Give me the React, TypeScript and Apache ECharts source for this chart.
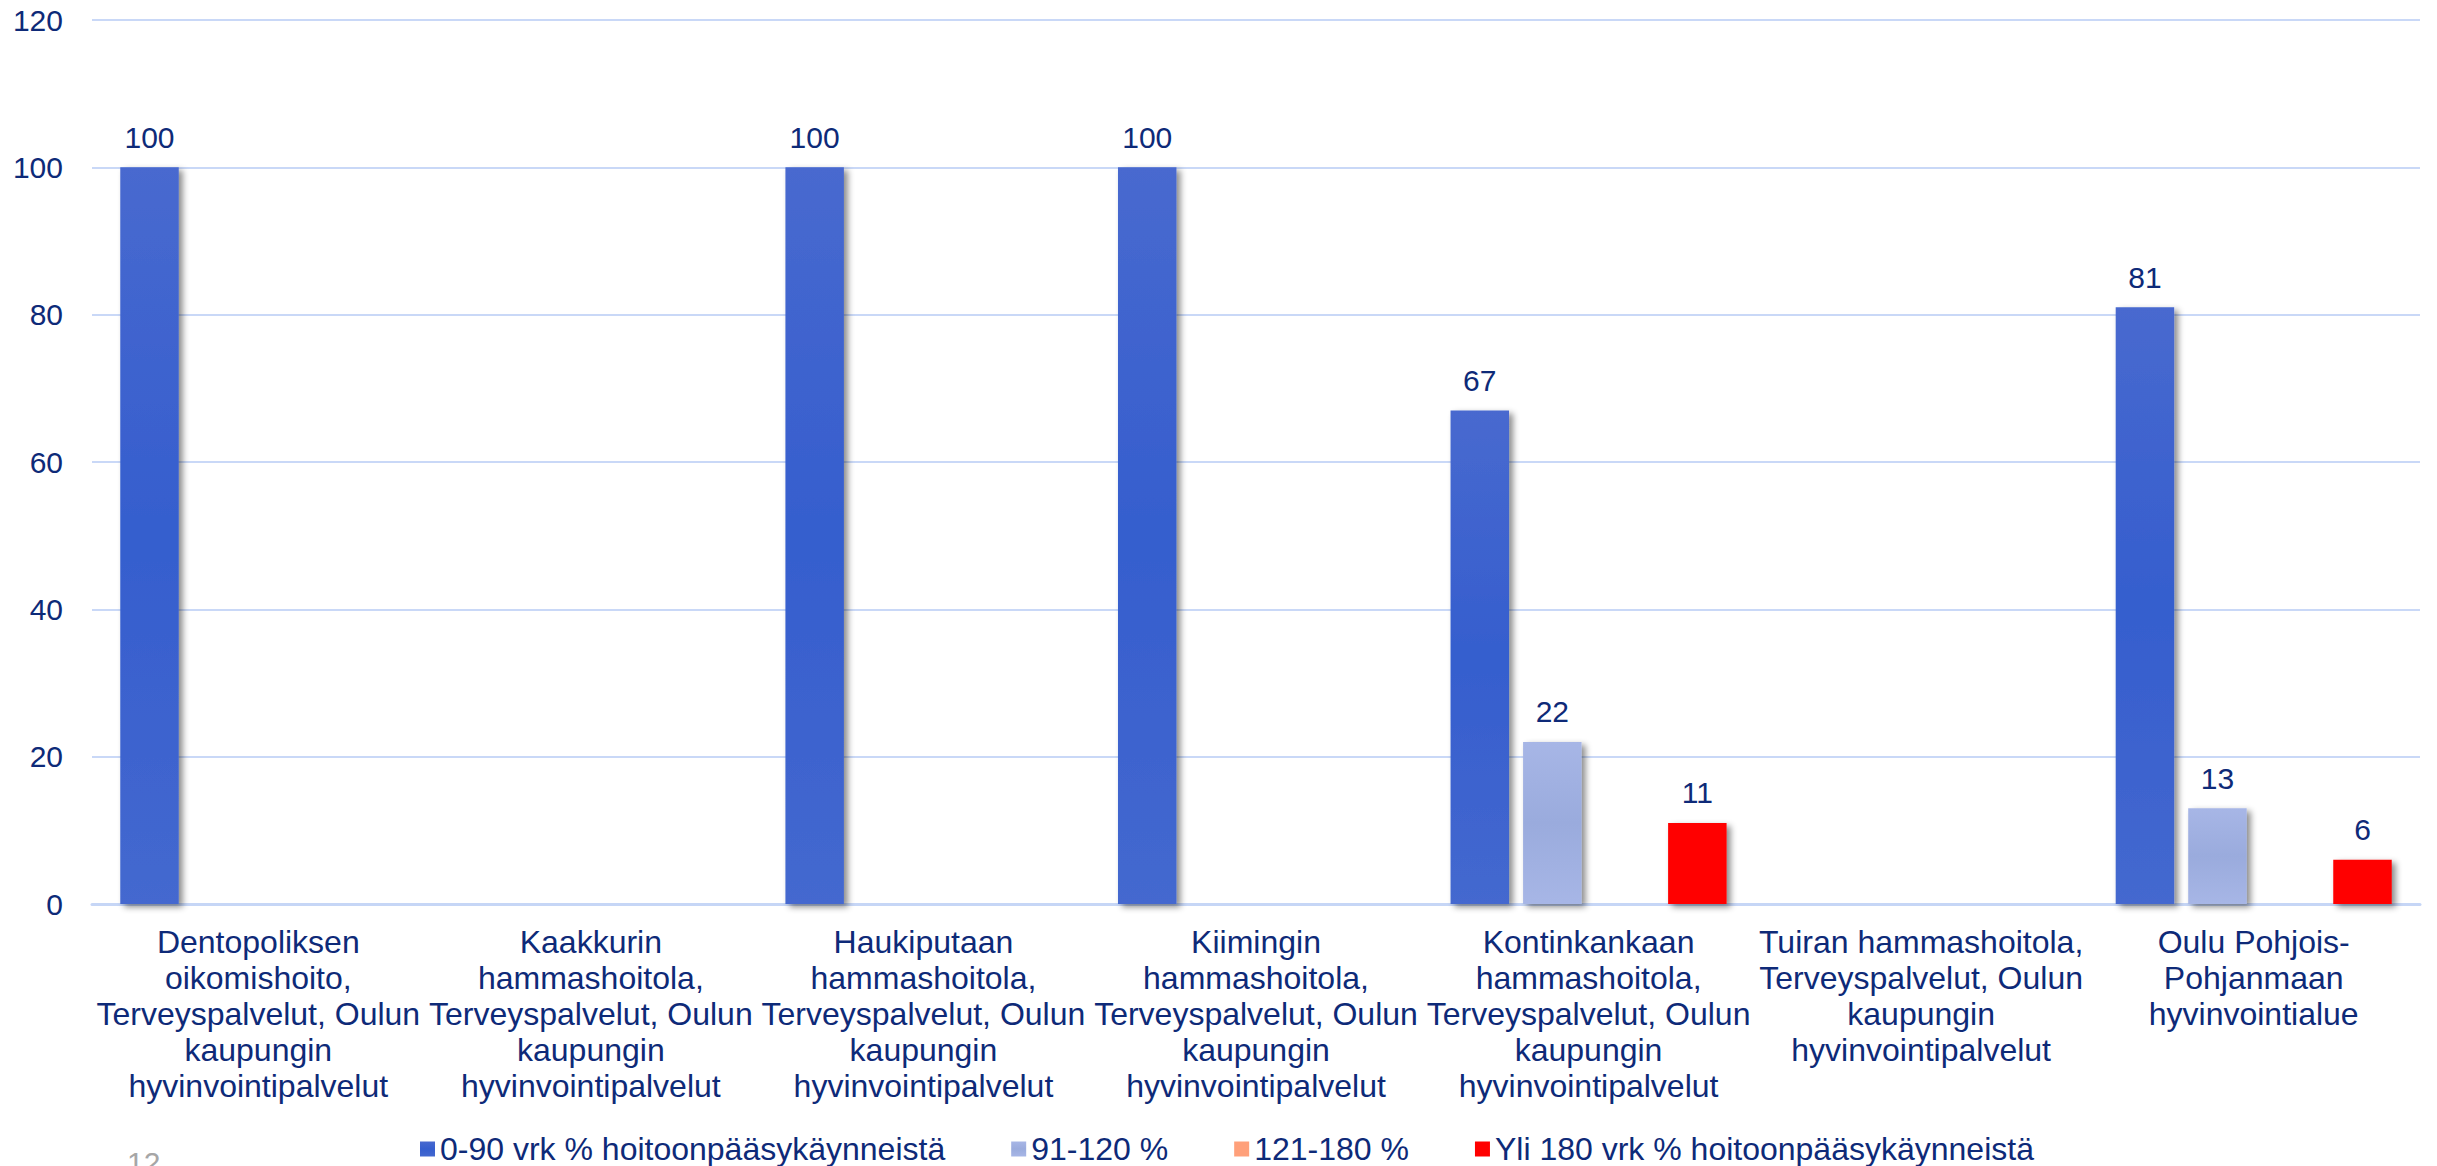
import React, { useEffect, useRef } from "react";
import * as echarts from "echarts";

const categories = [
  "Dentopoliksen\noikomishoito,\nTerveyspalvelut, Oulun\nkaupungin\nhyvinvointipalvelut",
  "Kaakkurin\nhammashoitola,\nTerveyspalvelut, Oulun\nkaupungin\nhyvinvointipalvelut",
  "Haukiputaan\nhammashoitola,\nTerveyspalvelut, Oulun\nkaupungin\nhyvinvointipalvelut",
  "Kiimingin\nhammashoitola,\nTerveyspalvelut, Oulun\nkaupungin\nhyvinvointipalvelut",
  "Kontinkankaan\nhammashoitola,\nTerveyspalvelut, Oulun\nkaupungin\nhyvinvointipalvelut",
  "Tuiran hammashoitola,\nTerveyspalvelut, Oulun\nkaupungin\nhyvinvointipalvelut",
  "Oulu Pohjois-\nPohjanmaan\nhyvinvointialue",
];

const seriesNames = [
  "0-90 vrk % hoitoonpääsykäynneistä",
  "91-120 %",
  "121-180 %",
  "Yli 180 vrk % hoitoonpääsykäynneistä",
];

const values0to90 = [100, null, 100, 100, 67, null, 81];
const values91to120 = [null, null, null, null, 22, null, 13];
const values121to180 = [null, null, null, null, null, null, null];
const valuesOver180 = [null, null, null, null, 11, null, 6];

const yTicks = { min: 0, max: 120, interval: 20 };
const pageNumber = "12";

const NAVY = "#0E2A78";
const FONT = "'Liberation Sans', Arial, Helvetica, sans-serif";

export default function App() {
  const ref = useRef<HTMLDivElement>(null);

  useEffect(() => {
    if (!ref.current) return;
    const chart = echarts.init(ref.current, null, { renderer: "svg" });

    const shadow = {
      shadowColor: "rgba(0,0,0,0.45)",
      shadowBlur: 6,
      shadowOffsetX: 4,
      shadowOffsetY: 3,
    };

    const label = {
      show: true,
      position: "top",
      distance: 15,
      color: NAVY,
      fontSize: 30,
      fontFamily: FONT,
    };

    const colors = [
      new echarts.graphic.LinearGradient(0, 0, 0, 1, [
        { offset: 0, color: "#4869CF" },
        { offset: 0.5, color: "#355ECE" },
        { offset: 1, color: "#4468CF" },
      ]),
      new echarts.graphic.LinearGradient(0, 0, 0, 1, [
        { offset: 0, color: "#A7B6E6" },
        { offset: 0.5, color: "#9AABDD" },
        { offset: 1, color: "#A7B6E6" },
      ]),
      "#FFA07A",
      "#FF0000",
    ];
    const data = [values0to90, values91to120, values121to180, valuesOver180];

    chart.setOption({
      animation: false,
      backgroundColor: "#FFFFFF",
      textStyle: { fontFamily: FONT },
      grid: { left: 92, right: 17, top: 20, bottom: 262, containLabel: false },
      legend: {
        left: 415,
        top: 1128,
        itemWidth: 15,
        itemHeight: 15,
        itemGap: 66,
        icon: "rect",
        textStyle: { color: NAVY, fontSize: 32, fontFamily: FONT },
        itemStyle: { shadowBlur: 0, shadowOffsetX: 0, shadowOffsetY: 0, shadowColor: "transparent" },
        data: seriesNames,
      },
      xAxis: {
        type: "category",
        data: categories,
        axisLine: { show: true, lineStyle: { color: "#C6D6F6", width: 3 } },
        axisTick: { show: false },
        axisLabel: {
          interval: 0,
          margin: 20,
          color: NAVY,
          fontSize: 32,
          lineHeight: 36,
          fontFamily: FONT,
          align: "center",
        },
      },
      yAxis: {
        type: "value",
        min: yTicks.min,
        max: yTicks.max,
        interval: yTicks.interval,
        axisLine: { show: false },
        axisTick: { show: false },
        axisLabel: { color: NAVY, fontSize: 30, margin: 29, fontFamily: FONT },
        splitLine: { lineStyle: { color: "#C9D8F7", width: 2 } },
      },
      series: seriesNames.map((name, i) => ({
        name,
        type: "bar",
        data: data[i],
        barGap: "24%",
        barCategoryGap: "17%",
        itemStyle: { color: colors[i], ...shadow },
        label,
      })),
      graphic: [
        {
          type: "text",
          left: 127,
          top: 1147,
          style: { text: pageNumber, fill: "#A6A6A6", fontSize: 30, fontFamily: FONT },
        },
      ],
    });

    return () => chart.dispose();
  }, []);

  return (
    <div
      ref={ref}
      style={{ position: "fixed", left: 0, top: 0, width: 2437, height: 1166 }}
    />
  );
}
